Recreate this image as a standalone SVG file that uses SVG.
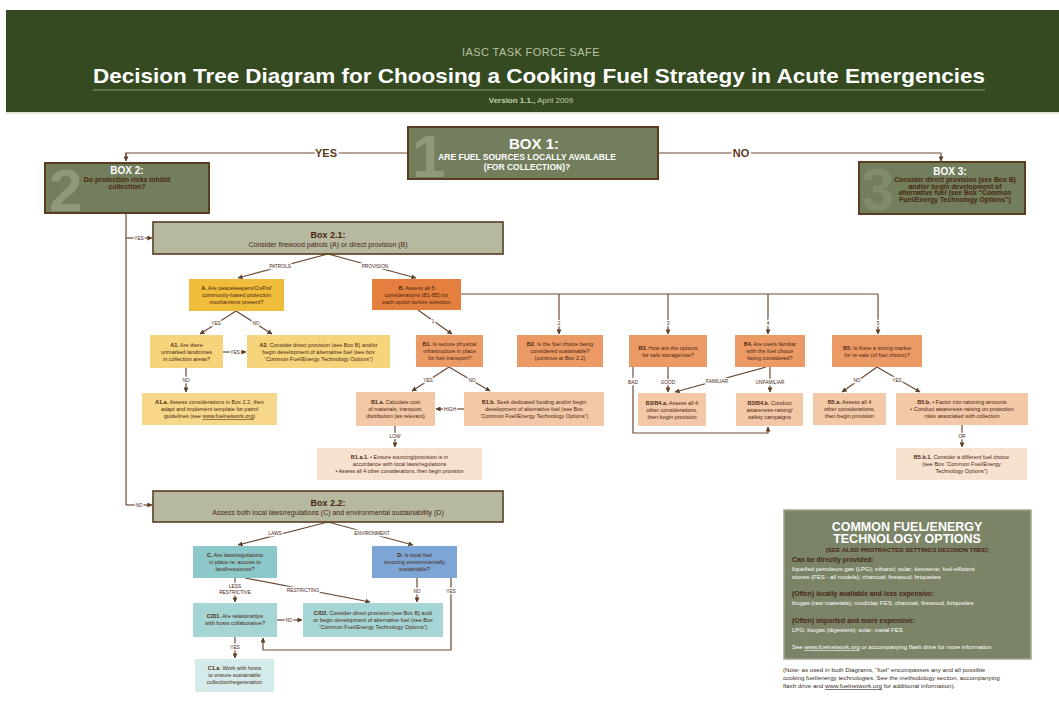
<svg xmlns="http://www.w3.org/2000/svg" width="1059" height="704" viewBox="0 0 1059 704">
<style>
text{font-family:"Liberation Sans",Arial,sans-serif}
.bx text{font-size:5.5px;fill:#4a2612;text-anchor:middle}
.k{font-weight:bold}
.u{text-decoration:underline}
.lb{font-size:4.8px;fill:#4a2612;text-anchor:middle;stroke:#fff;stroke-width:2.5px;paint-order:stroke}
.big{font-size:11px;font-weight:bold;fill:#5a3820;text-anchor:middle;stroke:#fff;stroke-width:4px;paint-order:stroke}
.cn{fill:none;stroke:#6b4a34;stroke-width:1.2}
.ar{marker-end:url(#ah)}
.ol{fill:#727e5c;stroke:#5c3c20;stroke-width:2}
.gr{fill:#b6b8a0;stroke:#5c3c20;stroke-width:1.6}
.dg{font-size:60px;font-weight:bold;fill:#8f997a}
.wt{fill:#fff;font-weight:bold;text-anchor:middle}
.bt{fill:#4a2612;font-weight:bold;text-anchor:middle}
.lg{font-size:6px;fill:#fff}
.lh{font-size:6.8px;fill:#4a2612;font-weight:bold}
</style>
<defs>
<marker id="ah" viewBox="0 0 6 6" refX="5.5" refY="3" markerWidth="5" markerHeight="5" orient="auto" markerUnits="userSpaceOnUse"><path d="M0,0 L6,3 L0,6 z" fill="#5e3f28"/></marker>
</defs>
<rect width="1059" height="704" fill="#fff"/>

<g id="header">
<rect x="6" y="10" width="1053" height="102" fill="#354a20"/>
<rect x="6" y="112" width="1053" height="2" fill="#dfe6d2"/>
<text x="531" y="56" font-size="11" fill="#b8c2a4" text-anchor="middle" letter-spacing="0.4">IASC TASK FORCE SAFE</text>
<text x="539" y="83" font-size="21" font-weight="bold" fill="#fff" text-anchor="middle" textLength="892" lengthAdjust="spacingAndGlyphs">Decision Tree Diagram for Choosing a Cooking Fuel Strategy in Acute Emergencies</text>
<line x1="93" y1="90" x2="985" y2="90" stroke="#8d9c74" stroke-width="1"/>
<text x="531" y="103" font-size="8" fill="#c4cdb0" text-anchor="middle"><tspan font-weight="bold">Version 1.1.,</tspan> April 2009</text>
</g>

<g id="connectors">
<path class="cn" d="M408,153 H126 V160"/>
<path class="cn ar" d="M126,153 V161"/>
<path class="cn ar" d="M658,153 H941 V161"/>
<text class="big" x="326" y="157">YES</text>
<text class="big" x="741" y="157">NO</text>
<path class="cn" d="M126,213 V505"/>
<path class="cn ar" d="M126,238 H152"/>
<path class="cn ar" d="M126,505 H152"/>
<text class="lb" x="139" y="239.5">YES</text>
<text class="lb" x="139" y="506.5">NO</text>
<path class="cn ar" d="M328,254 L238,278"/>
<path class="cn ar" d="M328,254 L416,278"/>
<text class="lb" x="280" y="268">PATROLS</text>
<text class="lb" x="375" y="268">PROVISION</text>
<path class="cn" d="M461,294 H878"/>
<path class="cn ar" d="M559,294 V334"/>
<path class="cn ar" d="M668,294 V334"/>
<path class="cn ar" d="M768,294 V334"/>
<path class="cn ar" d="M878,294 V334"/>
<text class="lb" x="559" y="325">2</text>
<text class="lb" x="668" y="325">3</text>
<text class="lb" x="768" y="325">4</text>
<text class="lb" x="878" y="325">5</text>
<path class="cn ar" d="M418,310 L452,334"/>
<text class="lb" x="433" y="323">1</text>
<path class="cn ar" d="M449,367 L412,391"/>
<path class="cn ar" d="M449,367 L490,391"/>
<text class="lb" x="428" y="382">YES</text>
<text class="lb" x="472" y="382">NO</text>
<path class="cn ar" d="M464,409 H436"/>
<text class="lb" x="450" y="410.5">HIGH</text>
<path class="cn ar" d="M395,426 V447"/>
<text class="lb" x="395" y="438">LOW</text>
<path class="cn ar" d="M633,367 V433 H768 V427"/>
<path class="cn ar" d="M668,367 V392"/>
<path class="cn ar" d="M766,367 L675,392"/>
<path class="cn ar" d="M770,367 V392"/>
<text class="lb" x="633" y="384">BAD</text>
<text class="lb" x="668" y="384">GOOD</text>
<text class="lb" x="717" y="383">FAMILIAR</text>
<text class="lb" x="770" y="384">UNFAMILIAR</text>
<path class="cn ar" d="M877,367 L842,392"/>
<path class="cn ar" d="M877,367 L920,392"/>
<text class="lb" x="857" y="382">NO</text>
<text class="lb" x="897" y="382">YES</text>
<path class="cn ar" d="M962,425 V447"/>
<text class="lb" x="962" y="438">OR</text>
<path class="cn ar" d="M236,311 L200,334"/>
<path class="cn ar" d="M236,311 L272,334"/>
<text class="lb" x="216" y="325">YES</text>
<text class="lb" x="256" y="325">NO</text>
<path class="cn ar" d="M223,352 H246"/>
<text class="lb" x="235" y="353.5">YES</text>
<path class="cn ar" d="M186,368 V392"/>
<text class="lb" x="186" y="382">NO</text>
<path class="cn ar" d="M328,522 L238,545"/>
<path class="cn ar" d="M328,522 L413,545"/>
<text class="lb" x="275" y="535">LAWS</text>
<text class="lb" x="372" y="535">ENVIRONMENT</text>
<path class="cn ar" d="M235,578 V602"/>
<path class="cn ar" d="M245,578 L370,602"/>
<path class="cn ar" d="M417,578 V602"/>
<path class="cn ar" d="M451,578 V650 H263 V638"/>
<text class="lb" x="235" y="588">LESS</text>
<text class="lb" x="235" y="594">RESTRICTIVE</text>
<text class="lb" x="303" y="592">RESTRICTING</text>
<text class="lb" x="417" y="593">NO</text>
<text class="lb" x="451" y="593">YES</text>
<path class="cn ar" d="M277,620 H302"/>
<text class="lb" x="289" y="621.5">NO</text>
<path class="cn ar" d="M235,637 V658"/>
<text class="lb" x="235" y="649">YES</text>
</g>

<g id="box1">
<rect class="ol" x="408" y="127" width="250" height="52"/>
<text class="dg" x="412" y="177">1</text>
<text class="wt" x="534" y="149" font-size="15">BOX 1:</text>
<text class="wt" x="527" y="160" font-size="8.5">ARE FUEL SOURCES LOCALLY AVAILABLE</text>
<text class="wt" x="527" y="169.5" font-size="8.5">(FOR COLLECTION)?</text>
</g>

<g id="box2">
<rect class="ol" x="45" y="163" width="164" height="50"/>
<text class="dg" x="49" y="211" font-size="56">2</text>
<text class="wt" x="127" y="174" font-size="10">BOX 2:</text>
<text class="bt" x="127" y="181.5" font-size="7">Do protection risks inhibit</text>
<text class="bt" x="127" y="188.5" font-size="7">collection?</text>
</g>

<g id="box3">
<rect class="ol" x="859" y="162" width="166" height="52"/>
<text class="dg" x="861" y="210" font-size="50" opacity="0.55">3</text>
<text class="wt" x="950" y="175" font-size="10">BOX 3:</text>
<text class="bt" x="955" y="182" font-size="6.8">Consider direct provision (see Box B)</text>
<text class="bt" x="955" y="188.5" font-size="6.8">and/or begin development of</text>
<text class="bt" x="955" y="195" font-size="6.8">alternative fuel (see Box “Common</text>
<text class="bt" x="955" y="201.5" font-size="6.8">Fuel/Energy Technology Options”)</text>
</g>

<g id="box2_1">
<rect class="gr" x="153" y="222" width="350" height="32"/>
<text class="bt" x="328" y="238" font-size="9">Box 2.1:</text>
<text x="328" y="246.5" font-size="7" fill="#4a2612" text-anchor="middle">Consider firewood patrols (A) or direct provision (B)</text>
</g>

<g id="box2_2">
<rect class="gr" x="153" y="491" width="350" height="31"/>
<text class="bt" x="328" y="506" font-size="9">Box 2.2:</text>
<text x="328" y="514.5" font-size="7" fill="#4a2612" text-anchor="middle">Assess both local laws/regulations (C) and environmental sustainability (D)</text>
</g>

<g id="nodeA" class="bx">
<rect x="189" y="279" width="95" height="32" fill="#efbd3b"/>
<text x="236.5" y="290"><tspan class="k">A.</tspan> Are peacekeepers/CivPol/</text>
<text x="236.5" y="297">community-based protection</text>
<text x="236.5" y="304">mechanisms present?</text>
</g>
<g id="nodeB" class="bx">
<rect x="372" y="279" width="89" height="31" fill="#e47f3f"/>
<text x="416.5" y="290"><tspan class="k">B.</tspan> Assess all 5</text>
<text x="416.5" y="297">considerations (B1-B5) for</text>
<text x="416.5" y="304">each option before selection</text>
</g>
<g id="nodeB1" class="bx">
<rect x="416" y="335" width="67" height="32" fill="#eb9a66"/>
<text x="449.5" y="346"><tspan class="k">B1.</tspan> Is secure physical</text>
<text x="449.5" y="353">infrastructure in place</text>
<text x="449.5" y="360">for fuel transport?</text>
</g>
<g id="nodeB2" class="bx">
<rect x="517" y="335" width="86" height="32" fill="#eb9a66"/>
<text x="560" y="346"><tspan class="k">B2.</tspan> Is the fuel choice being</text>
<text x="560" y="353">considered sustainable?</text>
<text x="560" y="360">(continue at Box 2.2)</text>
</g>
<g id="nodeB3" class="bx">
<rect x="629" y="335" width="78" height="32" fill="#eb9a66"/>
<text x="668" y="349.5"><tspan class="k">B3.</tspan> How are the options</text>
<text x="668" y="356.5">for safe storage/use?</text>
</g>
<g id="nodeB4" class="bx">
<rect x="735" y="335" width="70" height="32" fill="#eb9a66"/>
<text x="770" y="346"><tspan class="k">B4.</tspan> Are users familiar</text>
<text x="770" y="353">with the fuel choice</text>
<text x="770" y="360">being considered?</text>
</g>
<g id="nodeB5" class="bx">
<rect x="832" y="335" width="90" height="32" fill="#eb9a66"/>
<text x="877" y="349.5"><tspan class="k">B5.</tspan> Is there a strong market</text>
<text x="877" y="356.5">for re-sale (of fuel choice)?</text>
</g>
<g id="nodeB1a" class="bx">
<rect x="356" y="392" width="79" height="34" fill="#f3c8a6"/>
<text x="395.5" y="404"><tspan class="k">B1.a.</tspan> Calculate cost</text>
<text x="395.5" y="411">of materials, transport,</text>
<text x="395.5" y="418">distribution (as relevant)</text>
</g>
<g id="nodeB1b" class="bx">
<rect x="464" y="392" width="140" height="34" fill="#f3c8a6"/>
<text x="534" y="404"><tspan class="k">B1.b.</tspan> Seek dedicated funding and/or begin</text>
<text x="534" y="411">development of alternative fuel (see Box</text>
<text x="534" y="418">“Common Fuel/Energy Technology Options”)</text>
</g>
<g id="nodeB34a" class="bx">
<rect x="638" y="393" width="68" height="33" fill="#f3c8a6"/>
<text x="672" y="404.5"><tspan class="k">B3/B4.a.</tspan> Assess all 4</text>
<text x="672" y="411.5">other considerations,</text>
<text x="672" y="418.5">then begin provision</text>
</g>
<g id="nodeB34b" class="bx">
<rect x="736" y="393" width="67" height="33" fill="#f3c8a6"/>
<text x="769.5" y="404.5"><tspan class="k">B3/B4.b.</tspan> Conduct</text>
<text x="769.5" y="411.5">awareness-raising/</text>
<text x="769.5" y="418.5">safety campaigns</text>
</g>
<g id="nodeB5a" class="bx">
<rect x="813" y="393" width="73" height="32" fill="#f3c8a6"/>
<text x="849.5" y="404"><tspan class="k">B5.a.</tspan> Assess all 4</text>
<text x="849.5" y="411">other considerations,</text>
<text x="849.5" y="418">then begin provision</text>
</g>
<g id="nodeB5b" class="bx">
<rect x="896" y="393" width="132" height="32" fill="#f3c8a6"/>
<text x="962" y="404"><tspan class="k">B5.b.</tspan> • Factor into rationing amounts</text>
<text x="962" y="411">• Conduct awareness-raising on protection</text>
<text x="962" y="418">risks associated with collection</text>
</g>
<g id="nodeB5b1" class="bx">
<rect x="896" y="448" width="131" height="32" fill="#f7e1cf"/>
<text x="961.5" y="459"><tspan class="k">B5.b.1.</tspan> Consider a different fuel choice</text>
<text x="961.5" y="466">(see Box “Common Fuel/Energy</text>
<text x="961.5" y="473">Technology Options”)</text>
</g>
<g id="nodeB1a1" class="bx">
<rect x="317" y="448" width="165" height="32" fill="#f7e1cf"/>
<text x="399.5" y="459"><tspan class="k">B1.a.1.</tspan> • Ensure sourcing/provision is in</text>
<text x="399.5" y="466">accordance with local laws/regulations</text>
<text x="399.5" y="473" style="font-size:5.2px">• Assess all 4 other considerations, then begin provision</text>
</g>
<g id="nodeA1" class="bx">
<rect x="150" y="335" width="73" height="33" fill="#f6d47c"/>
<text x="186.5" y="346.5"><tspan class="k">A1.</tspan> Are there</text>
<text x="186.5" y="353.5">unmarked landmines</text>
<text x="186.5" y="360.5">in collection areas?</text>
</g>
<g id="nodeA2" class="bx">
<rect x="247" y="335" width="143" height="33" fill="#f6d47c"/>
<text x="318.5" y="346.5"><tspan class="k">A2.</tspan> Consider direct provision (see Box B) and/or</text>
<text x="318.5" y="353.5">begin development of alternative fuel (see box</text>
<text x="318.5" y="360.5">“Common Fuel/Energy Technology Options”)</text>
</g>
<g id="nodeA1a" class="bx">
<rect x="142" y="393" width="135" height="32" fill="#f7d88a"/>
<text x="209.5" y="404"><tspan class="k">A1.a.</tspan> Assess considerations in Box 2.2, then</text>
<text x="209.5" y="411">adapt and implement template for patrol</text>
<text x="209.5" y="418">guidelines (see <tspan class="u">www.fuelnetwork.org</tspan>)</text>
</g>
<g id="nodeC" class="bx">
<rect x="193" y="546" width="84" height="32" fill="#8cc8c9"/>
<text x="235" y="557"><tspan class="k">C.</tspan> Are laws/regulations</text>
<text x="235" y="564">in place re: access to</text>
<text x="235" y="571">land/resources?</text>
</g>
<g id="nodeD" class="bx">
<rect x="372" y="546" width="85" height="32" fill="#7da5d5"/>
<text x="414.5" y="557"><tspan class="k">D.</tspan> Is local fuel</text>
<text x="414.5" y="564">sourcing environmentally</text>
<text x="414.5" y="571">sustainable?</text>
</g>
<g id="nodeCD1" class="bx">
<rect x="193" y="603" width="84" height="34" fill="#a6d5d5"/>
<text x="235" y="617.5"><tspan class="k">C/D1.</tspan> Are relationships</text>
<text x="235" y="624.5">with hosts collaborative?</text>
</g>
<g id="nodeCD2" class="bx">
<rect x="303" y="603" width="140" height="34" fill="#a6d5d5"/>
<text x="373" y="615"><tspan class="k">C/D2.</tspan> Consider direct provision (see Box B) and/</text>
<text x="373" y="622">or begin development of alternative fuel (see Box</text>
<text x="373" y="629">“Common Fuel/Energy Technology Options”)</text>
</g>
<g id="nodeC1a" class="bx">
<rect x="195" y="659" width="79" height="33" fill="#d3ebeb"/>
<text x="234.5" y="670"><tspan class="k">C1.a.</tspan> Work with hosts</text>
<text x="234.5" y="677">to ensure sustainable</text>
<text x="234.5" y="684">collection/regeneration</text>
</g>

<g id="legend">
<rect x="784" y="510" width="247" height="149" fill="#7b8467" stroke="#a3a690" stroke-width="1.5"/>
<text x="907" y="531" font-size="12.5" class="wt">COMMON FUEL/ENERGY</text>
<text x="907" y="543" font-size="12.5" class="wt">TECHNOLOGY OPTIONS</text>
<text x="907" y="552" font-size="6.2" class="bt">(SEE ALSO PROTRACTED SETTINGS DECISION TREE)</text>
<text x="792" y="562" class="lh">Can be directly provided:</text>
<text x="792" y="571" class="lg">liquefied petroleum gas (LPG); ethanol; solar; kerosene; fuel-efficient</text>
<text x="792" y="578.5" class="lg">stoves (FES - all models); charcoal; firewood; briquettes</text>
<text x="792" y="596" class="lh">(Often) locally available and less expensive:</text>
<text x="792" y="605" class="lg">biogas (raw materials); mud/clay FES; charcoal, firewood, briquettes</text>
<text x="792" y="623" class="lh">(Often) imported and more expensive:</text>
<text x="792" y="632" class="lg">LPG; biogas (digesters); solar; metal FES</text>
<text x="792" y="649" class="lg">See <tspan class="u">www.fuelnetwork.org</tspan> or accompanying flash drive for more information</text>
</g>

<g id="note">
<text x="783" y="672" font-size="6.2" fill="#3d2a22">(Note: as used in both Diagrams, “fuel” encompasses any and all possible</text>
<text x="783" y="680" font-size="6.2" fill="#3d2a22">cooking fuel/energy technologies. See the methodology section, accompanying</text>
<text x="783" y="688" font-size="6.2" fill="#3d2a22">flash drive and <tspan class="u">www.fuelnetwork.org</tspan> for additional information).</text>
</g>
</svg>
